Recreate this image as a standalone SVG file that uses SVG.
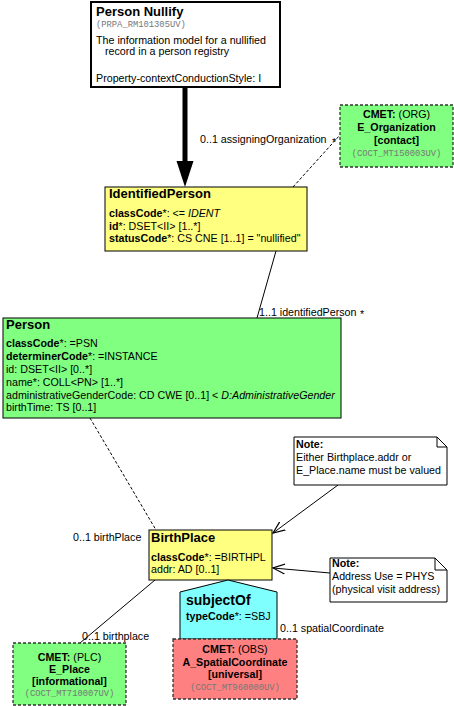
<svg xmlns="http://www.w3.org/2000/svg" width="454" height="706" viewBox="0 0 454 706">
<style>
text{font-family:"Liberation Sans",Arial,sans-serif;font-size:10.7px;fill:#000}
.t{font-size:13px;font-weight:bold}
.b{font-weight:bold}
.i{font-style:italic}
.m{font-family:"Liberation Mono","Courier New",monospace;font-size:8.8px;fill:#777}
.c{text-anchor:middle}
.box{stroke:#000;stroke-width:1}
.cmet{stroke:#333;stroke-width:1.3;stroke-dasharray:3,2}
.ln{stroke:#000;stroke-width:1;fill:none}
.dash{stroke:#000;stroke-width:1;fill:none;stroke-dasharray:3,2}
</style>
<defs>
<marker id="open" markerWidth="14" markerHeight="12" refX="12" refY="6" orient="auto" markerUnits="userSpaceOnUse">
<path d="M0,1 L12,6 L0,11" fill="none" stroke="#000" stroke-width="1.2"/>
</marker>
</defs>
<g id="connectors">
<line x1="185" y1="88" x2="185" y2="163" stroke="#000" stroke-width="5"/>
<polygon points="176.5,161 193.5,161 185,187" fill="#000"/>
<line class="dash" x1="293" y1="187" x2="340" y2="135"/>
<text x="200" y="143">0..1 assigningOrganization</text>
<text x="332" y="146">*</text>
<line class="ln" x1="276" y1="251" x2="257" y2="318"/>
<text x="259" y="316">1..1 identifiedPerson</text>
<text x="360" y="318">*</text>
<line class="dash" x1="90" y1="418" x2="156" y2="530"/>
<text x="73" y="541">0..1 birthPlace</text>
<line class="ln" x1="155" y1="580" x2="80" y2="643"/>
<text x="82" y="640">0..1 birthplace</text>
<text x="280" y="632">0..1 spatialCoordinate</text>
<line class="ln" x1="338" y1="485" x2="273" y2="533" marker-end="url(#open)"/>
<line class="ln" x1="330" y1="573" x2="273" y2="568" marker-end="url(#open)"/>
</g>
<g id="PersonNullify">
<rect x="91" y="2" width="189" height="85" fill="#fff" stroke="#000" stroke-width="2"/>
<text class="t" x="96" y="16">Person Nullify</text>
<text class="m" x="96" y="27">(PRPA_RM101305UV)</text>
<text x="96" y="44">The information model for a nullified</text>
<text x="105" y="55">record in a person registry</text>
<text x="96" y="82">Property-contextConductionStyle: I</text>
</g>
<g id="IdentifiedPerson">
<rect class="box" x="105" y="187" width="202" height="64" fill="#ffff80"/>
<text class="t" x="109" y="198">IdentifiedPerson</text>
<text x="109" y="217"><tspan class="b">classCode</tspan>*: &lt;= <tspan class="i">IDENT</tspan></text>
<text x="109" y="229.5"><tspan class="b">id</tspan>*: DSET&lt;II&gt; [1..*]</text>
<text x="109" y="242"><tspan class="b">statusCode</tspan>*: CS CNE [1..1] = "nullified"</text>
</g>
<g id="E_Organization">
<rect class="cmet" x="340" y="105" width="113" height="62" fill="#80ff80"/>
<text class="c" x="396.5" y="118"><tspan class="b">CMET:</tspan> (ORG)</text>
<text class="c b" x="396.5" y="131">E_Organization</text>
<text class="c b" x="396.5" y="144">[contact]</text>
<text class="m c" x="396.5" y="156">(COCT_MT150003UV)</text>
</g>
<g id="Person">
<rect class="box" x="3" y="318" width="338" height="100" fill="#80ff80"/>
<text class="t" x="6" y="329">Person</text>
<text x="6" y="347"><tspan class="b">classCode</tspan>*: =PSN</text>
<text x="6" y="360"><tspan class="b">determinerCode</tspan>*: =INSTANCE</text>
<text x="6" y="373">id: DSET&lt;II&gt; [0..*]</text>
<text x="6" y="386">name*: COLL&lt;PN&gt; [1..*]</text>
<text x="6" y="398.5">administrativeGenderCode: CD CWE [0..1] &lt; <tspan class="i">D:AdministrativeGender</tspan></text>
<text x="6" y="411">birthTime: TS [0..1]</text>
</g>
<g id="Note1">
<path d="M294,437 H437 L447,447 V485 H294 Z" fill="#fff" stroke="#000"/>
<path d="M437,437 V447 H447" fill="none" stroke="#000"/>
<text class="b" x="296" y="448">Note:</text>
<text x="296" y="460.5">Either Birthplace.addr or</text>
<text x="296" y="473.5">E_Place.name must be valued</text>
</g>
<g id="BirthPlace">
<rect class="box" x="149" y="530" width="123" height="50" fill="#ffff80"/>
<text class="t" x="151" y="542">BirthPlace</text>
<text x="151" y="560.5"><tspan class="b">classCode</tspan>*: =BIRTHPL</text>
<text x="151" y="573">addr: AD [0..1]</text>
</g>
<g id="Note2">
<path d="M330,558 H435 L447,570 V602 H330 Z" fill="#fff" stroke="#000"/>
<path d="M435,558 V570 H447" fill="none" stroke="#000"/>
<text class="b" x="332" y="567">Note:</text>
<text x="332" y="580">Address Use = PHYS</text>
<text x="332" y="593">(physical visit address)</text>
</g>
<g id="subjectOf">
<polygon points="228,580 277,592 277,639 180,639 180,592" fill="#80ffff" stroke="#000"/>
<text class="t" x="186" y="605" style="font-size:14px">subjectOf</text>
<text x="186" y="620"><tspan class="b">typeCode</tspan>*: =SBJ</text>
</g>
<g id="E_Place">
<rect class="cmet" x="13" y="643" width="113" height="62" fill="#80ff80"/>
<text class="c" x="69.5" y="661"><tspan class="b">CMET:</tspan> (PLC)</text>
<text class="c b" x="69.5" y="673">E_Place</text>
<text class="c b" x="69.5" y="685">[informational]</text>
<text class="m c" x="69.5" y="696">(COCT_MT710007UV)</text>
</g>
<g id="A_SpatialCoordinate">
<rect class="cmet" x="173" y="639" width="124" height="60" fill="#ff8080"/>
<text class="c" x="235" y="653"><tspan class="b">CMET:</tspan> (OBS)</text>
<text class="c b" x="235" y="666">A_SpatialCoordinate</text>
<text class="c b" x="235" y="678">[universal]</text>
<text class="m c" x="235" y="690">(COCT_MT960000UV)</text>
</g>
</svg>
